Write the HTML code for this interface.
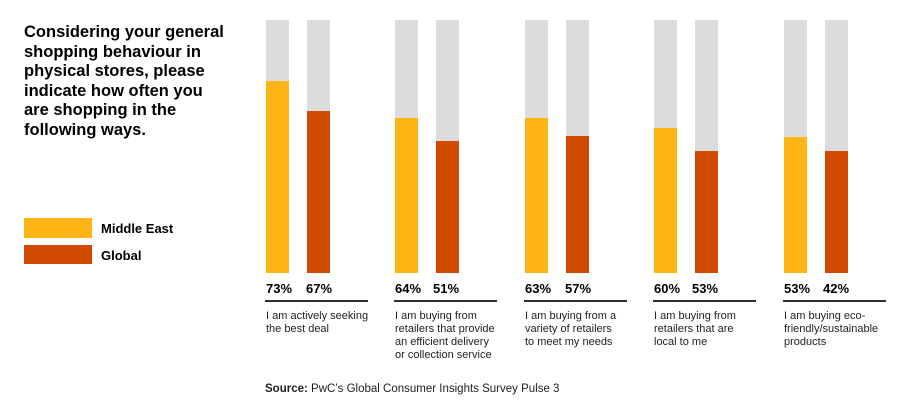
<!DOCTYPE html>
<html><head><meta charset="utf-8"><style>
body{margin:0;width:900px;height:408px;background:#fff;position:relative;overflow:hidden;font-family:"Liberation Sans",Arial,sans-serif;color:#000}
.a{position:absolute}
.bg{background:#dcdcdc;width:23px;top:20px;height:253px}
.y{background:#fdb515;width:23px}
.r{background:#d04a02;width:23px}
.p{font-weight:bold;font-size:13px;top:281px}
.ln{height:2px;background:#2d2d2d;top:300px;width:103px}
.d{font-size:11px;line-height:13px;top:310px;color:#222}
</style></head><body>
<div class="a" style="left:24px;top:23px;font-size:16.5px;font-weight:bold;line-height:19.6px;white-space:nowrap">Considering your general<br>shopping behaviour in<br>physical stores, please<br>indicate how often you<br>are shopping in the<br>following ways.</div>
<div class="a" style="left:24px;top:218px;width:68px;height:20px;background:#fdb515"></div>
<div class="a" style="left:24px;top:245px;width:68px;height:19px;background:#d04a02"></div>
<div class="a" style="left:101px;top:221px;font-size:13px;font-weight:bold">Middle East</div>
<div class="a" style="left:101px;top:248px;font-size:13px;font-weight:bold">Global</div>

<div class="a bg" style="left:266px"></div><div class="a bg" style="left:307px"></div>
<div class="a y" style="left:266px;top:81px;height:192px"></div><div class="a r" style="left:307px;top:111px;height:162px"></div>
<div class="a p" style="left:266px">73%</div><div class="a p" style="left:306px">67%</div>
<div class="a ln" style="left:265px"></div>
<div class="a d" style="left:266px">I am actively seeking<br>the best deal</div>

<div class="a bg" style="left:395px"></div><div class="a bg" style="left:436px"></div>
<div class="a y" style="left:395px;top:118px;height:155px"></div><div class="a r" style="left:436px;top:141px;height:132px"></div>
<div class="a p" style="left:395px">64%</div><div class="a p" style="left:433px">51%</div>
<div class="a ln" style="left:394px"></div>
<div class="a d" style="left:395px">I am buying from<br>retailers that provide<br>an efficient delivery<br>or collection service</div>

<div class="a bg" style="left:525px"></div><div class="a bg" style="left:566px"></div>
<div class="a y" style="left:525px;top:118px;height:155px"></div><div class="a r" style="left:566px;top:136px;height:137px"></div>
<div class="a p" style="left:525px">63%</div><div class="a p" style="left:565px">57%</div>
<div class="a ln" style="left:524px"></div>
<div class="a d" style="left:525px">I am buying from a<br>variety of retailers<br>to meet my needs</div>

<div class="a bg" style="left:654px"></div><div class="a bg" style="left:695px"></div>
<div class="a y" style="left:654px;top:128px;height:145px"></div><div class="a r" style="left:695px;top:151px;height:122px"></div>
<div class="a p" style="left:654px">60%</div><div class="a p" style="left:692px">53%</div>
<div class="a ln" style="left:653px"></div>
<div class="a d" style="left:654px">I am buying from<br>retailers that are<br>local to me</div>

<div class="a bg" style="left:784px"></div><div class="a bg" style="left:825px"></div>
<div class="a y" style="left:784px;top:137px;height:136px"></div><div class="a r" style="left:825px;top:151px;height:122px"></div>
<div class="a p" style="left:784px">53%</div><div class="a p" style="left:823px">42%</div>
<div class="a ln" style="left:783px"></div>
<div class="a d" style="left:784px">I am buying eco-<br>friendly/sustainable<br>products</div>

<div class="a" style="left:265px;top:383px;font-size:11.5px;color:#222"><b>Source:</b> PwC’s Global Consumer Insights Survey Pulse 3</div>
</body></html>
